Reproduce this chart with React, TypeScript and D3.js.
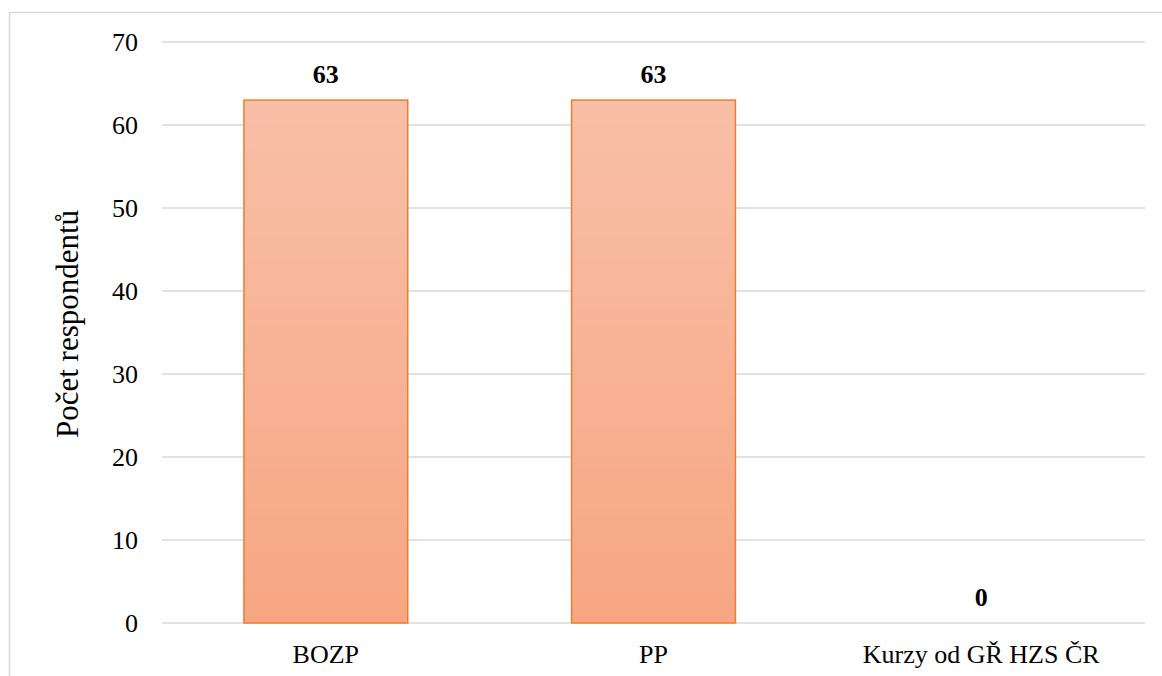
import React from "react";
import * as d3 from "d3";

const categories = ["BOZP", "PP", "Kurzy od GŘ HZS ČR"];
const values = [63, 63, 0];
const yTicks = [0, 10, 20, 30, 40, 50, 60, 70];
const yTitle = "Počet respondentů";

const W = 1162;
const H = 676;
const FONT = "'Liberation Serif', 'Times New Roman', serif";

export default function App() {
  const x = d3.scaleBand<string>().domain(categories).range([162, 1145]).paddingInner(0.5).paddingOuter(0.25);
  const y = d3.scaleLinear().domain([0, 70]).range([623, 42]);
  const bw = x.bandwidth();
  return (
    <svg width={W} height={H} style={{ position: "absolute", left: 0, top: 0, display: "block" }}>
      <defs>
        <linearGradient id="barGrad" x1="0" y1="0" x2="0" y2="1">
          <stop offset="0" stopColor="#F8BFA7" />
          <stop offset="1" stopColor="#F7A683" />
        </linearGradient>
      </defs>
      <rect x={0} y={0} width={W} height={H} fill="#fff" />
      <rect x={9.5} y={12.5} width={W + 20} height={H + 20} fill="none" stroke="#D9D9D9" strokeWidth={1.5} />
      {yTicks.map((t) => (
        <g key={t}>
          <line x1={162} x2={1145} y1={y(t)} y2={y(t)} stroke="#D9D9D9" strokeWidth={1.5} />
          <text x={138} y={y(t)} dy="0.35em" textAnchor="end" fontFamily={FONT} fontSize={26} fill="#000">
            {t}
          </text>
        </g>
      ))}
      {categories.map((c, i) => (
        <g key={c}>
          {values[i] > 0 && (
            <rect
              x={x(c)!}
              y={y(values[i])}
              width={bw}
              height={y(0) - y(values[i])}
              fill="url(#barGrad)"
              stroke="#ED7D31"
              strokeWidth={1.5}
            />
          )}
          <text
            x={x(c)! + bw / 2}
            y={y(values[i]) - 17}
            textAnchor="middle"
            fontFamily={FONT}
            fontWeight="bold"
            fontSize={26}
            fill="#000"
          >
            {values[i]}
          </text>
          <text x={x(c)! + bw / 2} y={663} textAnchor="middle" fontFamily={FONT} fontSize={26} fill="#000">
            {c}
          </text>
        </g>
      ))}
      <text
        transform={`translate(78, 324) rotate(-90)`}
        textAnchor="middle"
        fontFamily={FONT}
        fontSize={31}
        fill="#000"
      >
        {yTitle}
      </text>
    </svg>
  );
}
